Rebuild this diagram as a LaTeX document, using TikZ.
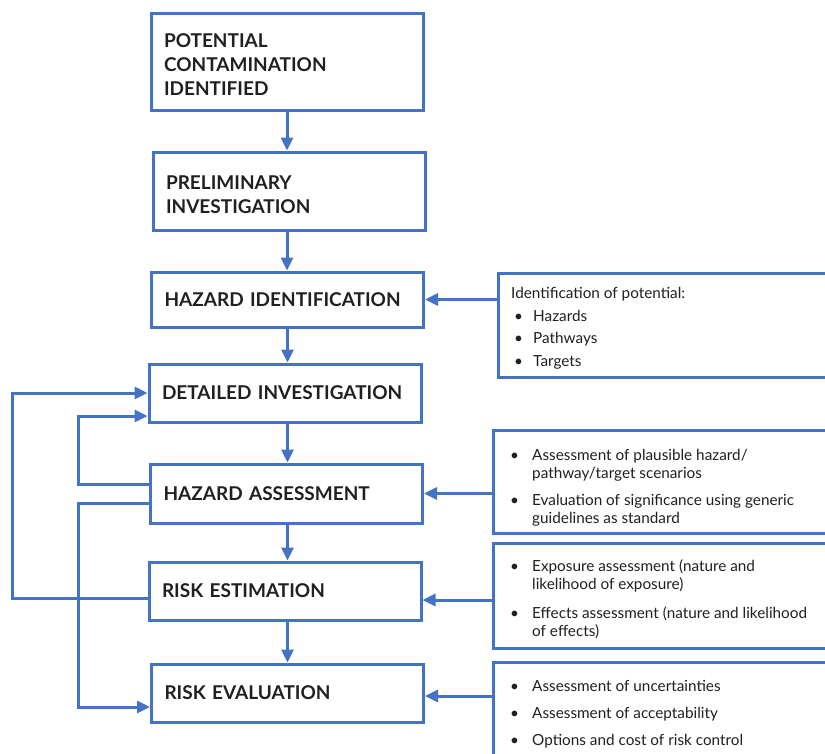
\documentclass[tikz,border=0pt]{standalone}
\usepackage{fontspec}
\setmainfont{Lato}
\newfontfamily\headfont[WordSpace=1.3]{Lato}
\usetikzlibrary{arrows.meta}
\definecolor{bl}{HTML}{4472C4}
\definecolor{tx}{HTML}{231F20}
\newcommand{\blt}{\makebox[22pt][l]{\textbullet}}
\newcommand{\bltA}{\makebox[22pt][l]{\hspace{3pt}\textbullet}}
\newcommand{\ind}{\hspace*{22pt}}
\begin{document}
\begin{tikzpicture}[x=1pt,y=-1pt,
  mbox/.style={draw=bl, line width=3pt, rectangle, inner xsep=13pt, inner ysep=0pt,
    text width=246pt, align=left, text=tx, font=\headfont\fontsize{19}{24}\selectfont\bfseries},
  rbox/.style={draw=bl, line width=3pt, rectangle, inner sep=0pt},
  rtext/.style={inner sep=0pt, align=left, text=tx, anchor=base west},
  arr/.style={draw=bl, line width=3pt, -{Triangle[length=13pt,width=12pt]}}
]
\clip (0,0) rectangle (825,753);
\fill[white] (0,0) rectangle (825,753);

% main column
\node[mbox, minimum height=97pt] (b1) at (287,61.5) {\rule{0pt}{20pt}POTENTIAL\\CONTAMINATION\\IDENTIFIED};
\node[mbox, minimum height=78pt] (b2) at (289,191) {\rule{0pt}{22pt}PRELIMINARY\\INVESTIGATION};
\node[mbox, minimum height=55pt] (b3) at (287.5,299.5) {HAZARD IDENTIFICATION};
\node[mbox, minimum height=58pt] (b4) at (285,393) {DETAILED INVESTIGATION};
\node[mbox, minimum height=59pt] (b5) at (286.5,493.5) {HAZARD ASSESSMENT};
\node[mbox, minimum height=58pt] (b6) at (285,591) {RISK ESTIMATION};
\node[mbox, minimum height=58pt] (b7) at (287.5,693) {RISK EVALUATION};

% right boxes
\node[rbox, minimum width=342pt, minimum height=104pt] (ra) at (669,325) {};
\node[rbox, minimum width=347pt, minimum height=103pt] (rb) at (666.5,481.5) {};
\node[rbox, minimum width=347pt, minimum height=105pt] (rc) at (666.5,595.5) {};
\node[rbox, minimum width=347pt, minimum height=108pt] (rd) at (666.5,716) {};

\node[rtext, font=\fontsize{15.3}{22.5}\selectfont] (ta) at (511,366)
  {Identification of potential:\\ \bltA Hazards\\ \bltA Pathways\\ \bltA Targets};
\node[rtext, font=\fontsize{15.3}{18}\selectfont] (tb) at (510,523)
  {\blt Assessment of plausible hazard/\\ \ind pathway/target scenarios\\[9pt]
   \blt Evaluation of significance using generic\\ \ind guidelines as standard};
\node[rtext, font=\fontsize{15.3}{18}\selectfont] (tc) at (510,636)
  {\blt Exposure assessment (nature and\\ \ind likelihood of exposure)\\[11pt]
   \blt Effects assessment (nature and likelihood\\ \ind of effects)};
\node[rtext, font=\fontsize{15.3}{27}\selectfont] (td) at (510,745)
  {\blt Assessment of uncertainties\\ \blt Assessment of acceptability\\ \blt Options and cost of risk control};

% coordinates for loops and entry points
\coordinate (lo) at (12,0);
\coordinate (li) at (78,0);
\coordinate (e6) at ([yshift=-9pt]b6.east);
\coordinate (e7) at ([yshift=-3pt]b7.east);
\coordinate (w4) at ([yshift=-23pt]b4.west);
\coordinate (w5a) at ([yshift=9.5pt]b5.west);
\coordinate (w5b) at ([yshift=-9.5pt]b5.west);
\coordinate (w6) at ([yshift=-7pt]b6.west);
\coordinate (w7) at ([yshift=-14pt]b7.west);

% vertical arrows
\draw[arr] (b1.south) -- (b1.south |- b2.north);
\draw[arr] (b2.south -| b1.south) -- (b1.south |- b3.north);
\draw[arr] (b3.south) -- (b3.south |- b4.north);
\draw[arr] (b4.south -| b3.south) -- (b3.south |- b5.north);
\draw[arr] (b5.south -| b3.south) -- (b3.south |- b6.north);
\draw[arr] (b6.south -| b3.south) -- (b3.south |- b7.north);

% right inputs
\draw[arr] (ra.west |- b3.east) -- (b3.east);
\draw[arr] (rb.west |- b5.east) -- (b5.east);
\draw[arr] (rc.west |- e6) -- (e6);
\draw[arr] (rd.west |- e7) -- (e7);

% feedback loops
\draw[arr] (w6) -- (w6 -| lo) -- (lo |- b4.west) -- (b4.west);
\draw[arr] (w5a) -- (w5a -| li) -- (li |- w4) -- (w4);
\draw[arr] (w5b) -- (w5b -| li) -- (li |- w7) -- (w7);
\end{tikzpicture}
\end{document}
